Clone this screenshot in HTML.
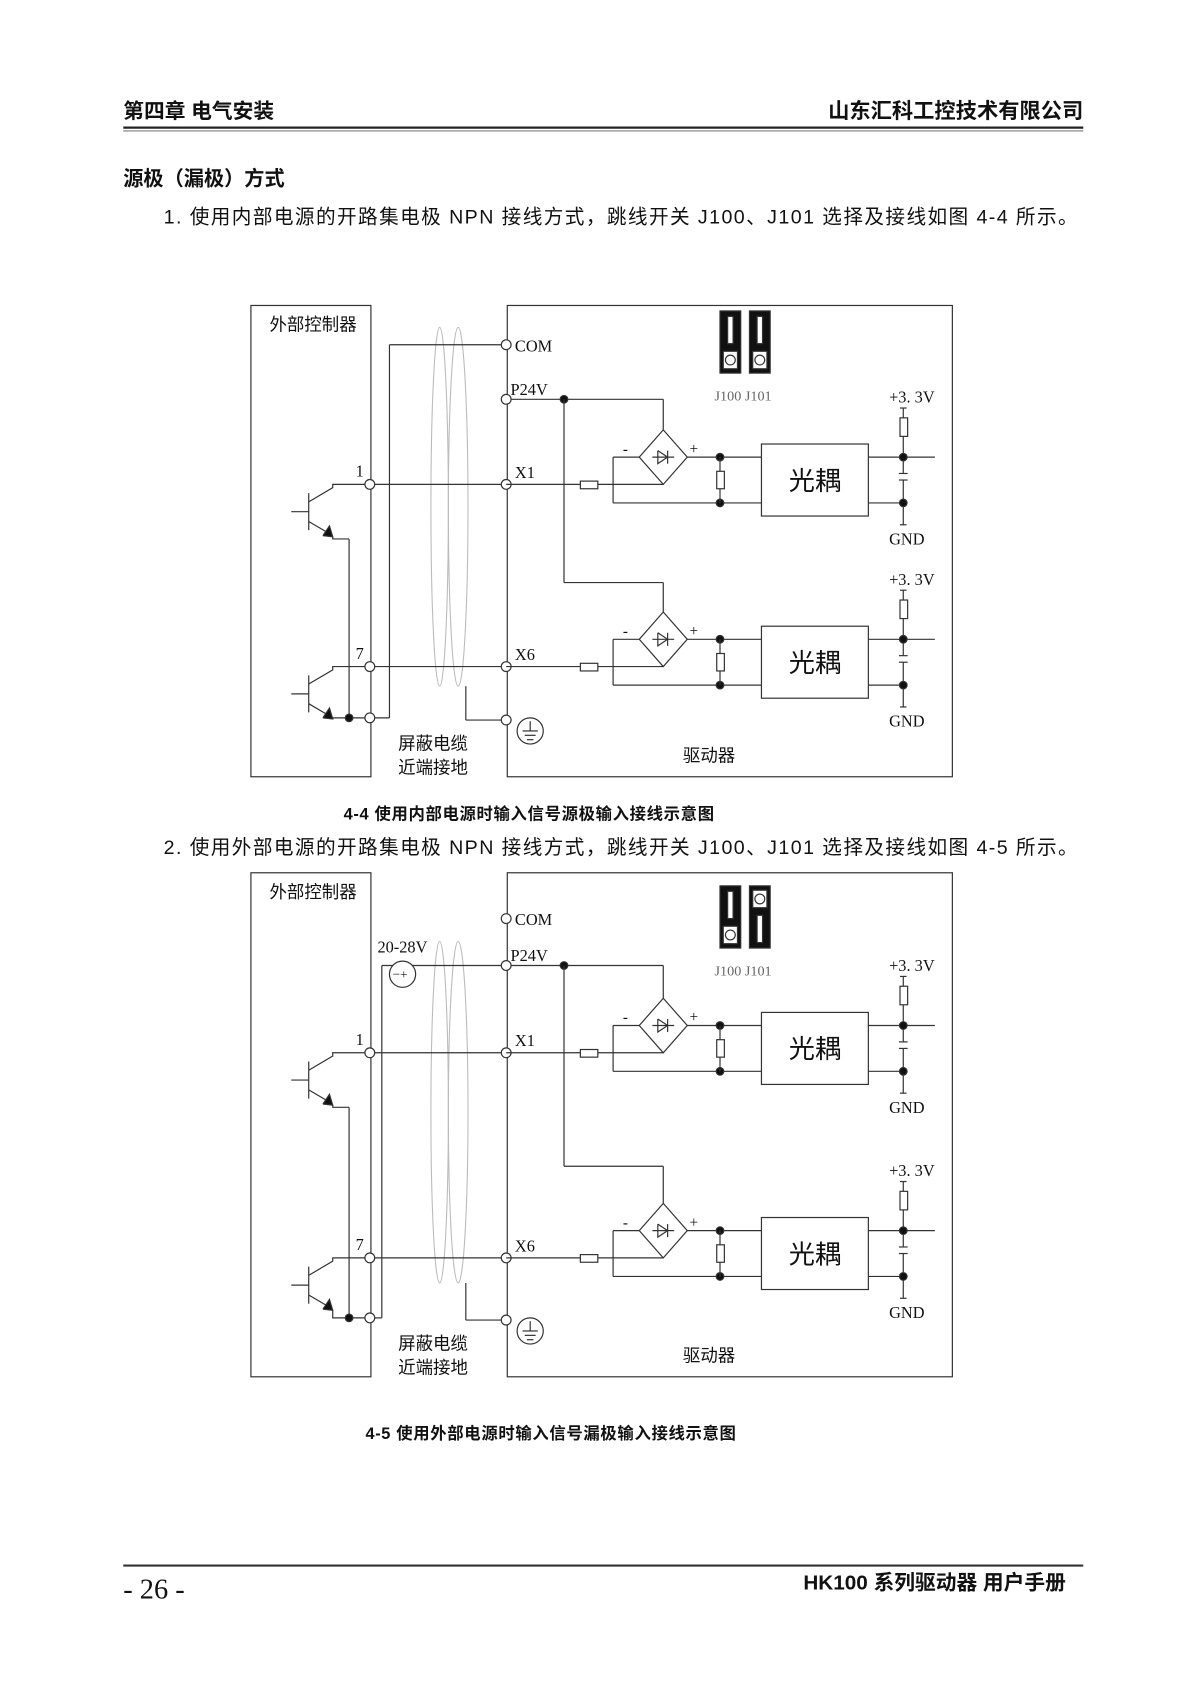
<!DOCTYPE html>
<html><head><meta charset="utf-8"><style>
html,body{margin:0;padding:0;background:#fff;}
svg{display:block}
text{font-family:"Liberation Serif","Noto Serif CJK SC",serif;fill:#111}
.s{font-family:"Liberation Sans","Noto Sans CJK SC",sans-serif}
</style></head><body>
<svg id="g" width="1200" height="1703" viewBox="0 0 1100 1561" preserveAspectRatio="none" xmlns="http://www.w3.org/2000/svg">
<text class="s" x="113" y="108" font-size="19" font-weight="bold">第四章  电气安装</text>
<text class="s" x="993" y="108" font-size="19.5" font-weight="bold" text-anchor="end">山东汇科工控技术有限公司</text>
<line x1="113" y1="117" x2="993" y2="117" stroke="#222" stroke-width="2"/>
<line x1="113" y1="120" x2="993" y2="120" stroke="#555" stroke-width="0.8"/>
<text class="s" x="113" y="170" font-size="18.5" font-weight="bold">源极（漏极）方式</text>
<text class="s" x="150" y="205" font-size="18" letter-spacing="1.3">1.  使用内部电源的开路集电极 NPN 接线方式，跳线开关 J100、J101 选择及接线如图 4-4 所示。</text>
<text class="s" x="315" y="751" font-size="15" font-weight="bold" letter-spacing="0.6">4-4  使用内部电源时输入信号源极输入接线示意图</text>
<text class="s" x="150" y="783" font-size="18" letter-spacing="1.3">2.  使用外部电源的开路集电极 NPN 接线方式，跳线开关 J100、J101 选择及接线如图 4-5 所示。</text>
<text class="s" x="335" y="1319" font-size="15" font-weight="bold" letter-spacing="0.6">4-5  使用外部电源时输入信号漏极输入接线示意图</text>
<line x1="113" y1="1435" x2="993" y2="1435" stroke="#333" stroke-width="2"/>
<text x="113" y="1465" font-size="26">- 26 -</text>
<text class="s" x="977" y="1457" font-size="19" font-weight="bold" text-anchor="end">HK100 系列驱动器  用户手册</text>
<g id="d" stroke="#333" stroke-width="1.1" fill="none"></g>
</svg>
<script>
var d=document.getElementById('d'),out='';
function L(a,b,c,e){out+='<line x1="'+a+'" y1="'+b+'" x2="'+c+'" y2="'+e+'"/>';}
function P(p,f){out+='<polyline points="'+p+'"'+(f?' fill="'+f+'"':'')+'/>';}
function R(x,y,w,h,f){out+='<rect x="'+x+'" y="'+y+'" width="'+w+'" height="'+h+'"'+(f?' fill="'+f+'"':' fill="#fff"')+'/>';}
function C(x,y,r,f){out+='<circle cx="'+x+'" cy="'+y+'" r="'+r+'" fill="'+(f||'#fff')+'"/>';}
function T(x,y,s,sz,a,cls,col){out+='<text x="'+x+'" y="'+y+'" font-size="'+sz+'" stroke="none"'+(a?' text-anchor="'+a+'"':'')+(cls?' class="'+cls+'"':'')+(col?' style="fill:'+col+'"':'')+'>'+s+'</text>';}
function block(cy,xy){
 P('608,'+(cy-25)+' 630,'+cy+' 608,'+(cy+25)+' 586,'+cy+' 608,'+(cy-25));
 L(598,cy,618,cy);P('603,'+(cy-6)+' 603,'+(cy+6)+' 612,'+cy+' 603,'+(cy-6));L(612,cy-6,612,cy+6);
 T(571,cy-3,'-',14);T(632,cy-3,'+',14);
 L(464,xy,532,xy);L(548,xy,608,xy);R(532,xy-3,16,7);
 L(586,cy,562,cy);L(562,cy,562,cy+42);L(562,cy+42,698,cy+42);
 L(630,cy,698,cy);C(660,cy,3.5,'#111');C(660,cy+42,3.5,'#111');L(660,cy,660,cy+42);R(657,cy+13,7,16);
 R(698,cy-12,98,66);T(747,cy+30,'光耦',24,'middle','s');
 L(796,cy,857,cy);L(796,cy+42,828,cy+42);
 L(828,cy-45,828,cy+15);L(828,cy+21,828,cy+62);R(825,cy-36,7,17);
 L(824,cy+15,832,cy+15);L(824,cy+21,832,cy+21);L(825,cy-45,831,cy-45);L(825,cy+62,831,cy+62);
 C(828,cy,3.5,'#111');C(828,cy+42,3.5,'#111');
 T(815,cy-50,'+3. 3V',15);T(815,cy+80,'GND',15);
}
function tr(t,ye,dot){
 L(267,t+25,283,t+25);L(283,t+8,283,t+42);
 P('283,'+(t+16)+' 305,'+(t+3)+' 305,'+t+' 464,'+t);
 L(283,t+34,300,t+44);P('296,'+(t+47)+' 305,'+(t+48)+' 302,'+(t+38)+' 296,'+(t+47),'#111');
 P('305,'+(t+48)+' 305,'+ye+' '+(dot?'339':'320')+','+ye);
}
function dia(o){
 var top=o.top,bot=o.bot;
 R(230,top,110,bot-top);R(465,top,408,bot-top);
 T(247,top+23,'外部控制器',16,null,'s');
 out+='<g stroke="#bbb" stroke-width="1"><ellipse cx="403" cy="'+((o.c1+o.c2)/2)+'" rx="8" ry="'+((o.c2-o.c1)/2)+'"/><ellipse cx="420" cy="'+((o.c1+o.c2)/2)+'" rx="9" ry="'+((o.c2-o.c1)/2)+'"/></g>';
 tr(o.x1,o.e1,false);L(320,o.e1,320,o.bt);
 tr(o.x6,o.bt,true);C(320,o.bt,3.5,'#111');
 T(326,o.x1-7,'1',15);T(326,o.x6-7,'7',15);
 if(o.com){L(357,o.com,464,o.com);L(357,o.com,357,o.bt);L(339,o.bt,357,o.bt);C(464,o.com,4.5);T(472,o.com+6,'COM',15);}
 else{C(464,o.comc,4.5);T(472,o.comc+6,'COM',15);
  L(350,o.p24,464,o.p24);L(350,o.p24,350,o.bt);L(339,o.bt,350,o.bt);C(369,o.p24+8,12);T(360,o.p24+12,'−+',12);T(346,o.p24-12,'20-28V',15);}
 L(464,o.p24,608,o.p24);L(608,o.p24,608,o.b1-25);C(517,o.p24,3.5,'#111');
 L(517,o.p24,517,o.br);L(517,o.br,608,o.br);L(608,o.br,608,o.b2-25);
 C(464,o.p24,4.5);T(468,o.p24-4,'P24V',15);
 C(339,o.x1,4.5);C(464,o.x1,4.5);T(472,o.x1-6,'X1',15);
 C(339,o.x6,4.5);C(464,o.x6,4.5);T(472,o.x6-6,'X6',15);
 C(339,o.bt,4.5);
 L(427,o.c2,427,o.gt);L(427,o.gt,464,o.gt);C(464,o.gt,4.5);
 C(486,o.gt+10,12);L(486,o.gt+1,486,o.gt+10);L(479,o.gt+10,493,o.gt+10);L(481,o.gt+14,491,o.gt+14);L(483,o.gt+18,489,o.gt+18);
 T(365,bot-25,'屏蔽电缆',16,null,'s');T(365,bot-3,'近端接地',16,null,'s');T(626,bot-14,'驱动器',16,null,'s');
 block(o.b1,o.x1);block(o.b2,o.x6);
 var j=o.j;
 R(660,j,19,57,'#111');R(687,j,19,57,'#111');
 o.jp.forEach(function(p,i){var x=660+i*27;
  if(p=='b'){R(x+7,j+5,5,25,'#fff');R(x+3,j+37,13,16,'#fff');C(x+9.5,j+45,4.5);}
  else{R(x+3,j+4,13,16,'#fff');C(x+9.5,j+12,4.5);R(x+7,j+27,5,25,'#fff');}
 });
 T(655,j+82,'J100 J101',13,null,null,'#666');
}
dia({top:280,bot:712,com:316,p24:366,x1:444,x6:611,e1:494,bt:658,gt:660,c1:300,c2:629,b1:419,b2:586,br:534,j:285,jp:['b','b']});
dia({top:800,bot:1262,comc:842,p24:885,x1:965,x6:1153,e1:1015,bt:1208,gt:1210,c1:863,c2:1176,b1:940,b2:1128,br:1069,j:812,jp:['b','t']});
d.innerHTML=out;
</script>
</body></html>
